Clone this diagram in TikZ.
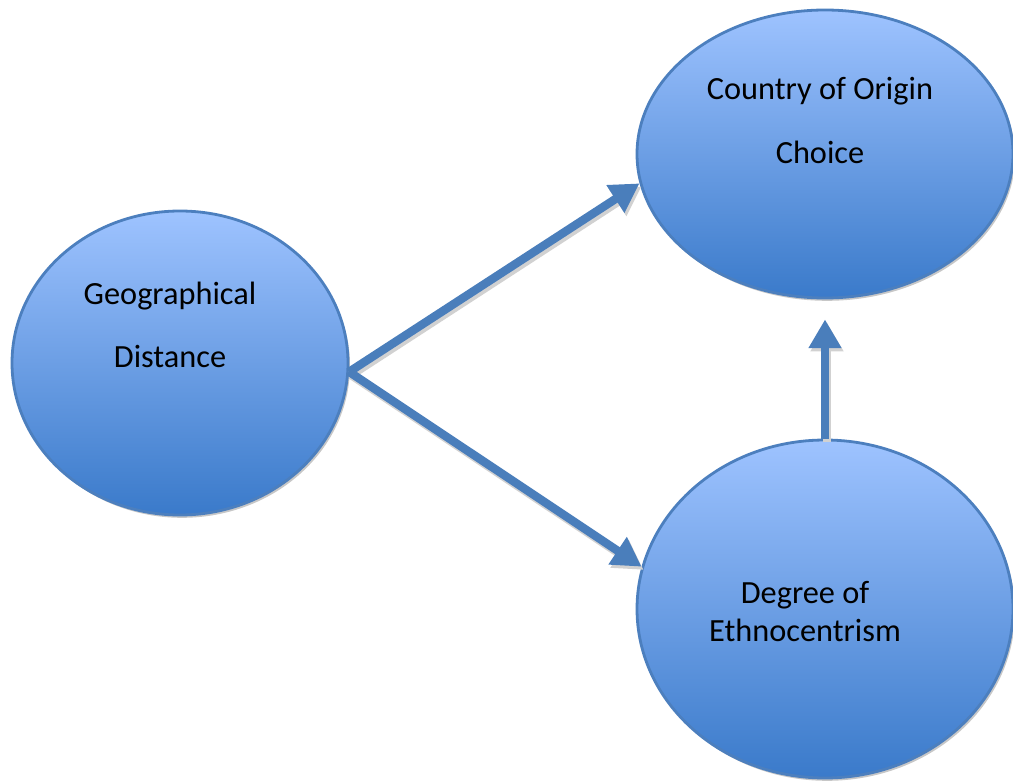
\documentclass[tikz,border=0pt]{standalone}
\usepackage{fontspec}
\setmainfont{Carlito}
\usetikzlibrary{arrows.meta, shapes.geometric, shadows, positioning}
\definecolor{bubtop}{RGB}{158,195,255}
\definecolor{bubbot}{RGB}{58,122,202}
\definecolor{bubline}{RGB}{76,127,190}
\definecolor{arrblue}{RGB}{74,126,187}
\tikzset{
  bubble/.style={ellipse, draw=bubline, line width=0.07cm, top color=bubtop, bottom color=bubbot, inner sep=0pt,
    drop shadow={shadow xshift=0.05cm, shadow yshift=-0.07cm, fill=black!22, opacity=1}},
  txt/.style={font=\fontsize{23}{45}\selectfont, align=center},
  txttight/.style={font=\fontsize{23}{27.6}\selectfont, align=center},
  link/.style={line width=0.21cm, draw=arrblue, -{Triangle[width=0.78cm,length=0.72cm]}},
  linkshadow/.style={link, draw=black!18, transform canvas={xshift=0.05cm, yshift=-0.08cm}}
}

\begin{document}
\begin{tikzpicture}
\useasboundingbox (0,0) rectangle (25.325,19.5);

% the three factors
\node[bubble, minimum width=8.4cm, minimum height=7.6cm] (geo) at (4.5,10.425) {};
\node[bubble, minimum width=9.4cm, minimum height=7.2cm] (coo) at (20.625,15.65) {};
\node[bubble, minimum width=9.4cm, minimum height=8.45cm] (deg) at (20.625,4.275) {};

\node[txt] (geotext) at (4.25,11.375) {Geographical\\Distance};
\node[txt] (cootext) at (20.5,16.49) {Country of Origin\\Choice};
\node[txttight] (degtext) at (20.125,4.21) {Degree of\\Ethnocentrism};

% arrows with their shadows
\foreach \a/\b in {geo.-3/coo.189, geo.-3/deg.167}
  {
    \draw[linkshadow] (\a) -- (\b);
    \draw[link] (\a) -- (\b);
  }
\draw[linkshadow, shorten >=0.5cm] (deg.north) -- (coo.south);
\draw[link, shorten >=0.5cm] (deg.north) -- (coo.south);
\end{tikzpicture}
\end{document}
